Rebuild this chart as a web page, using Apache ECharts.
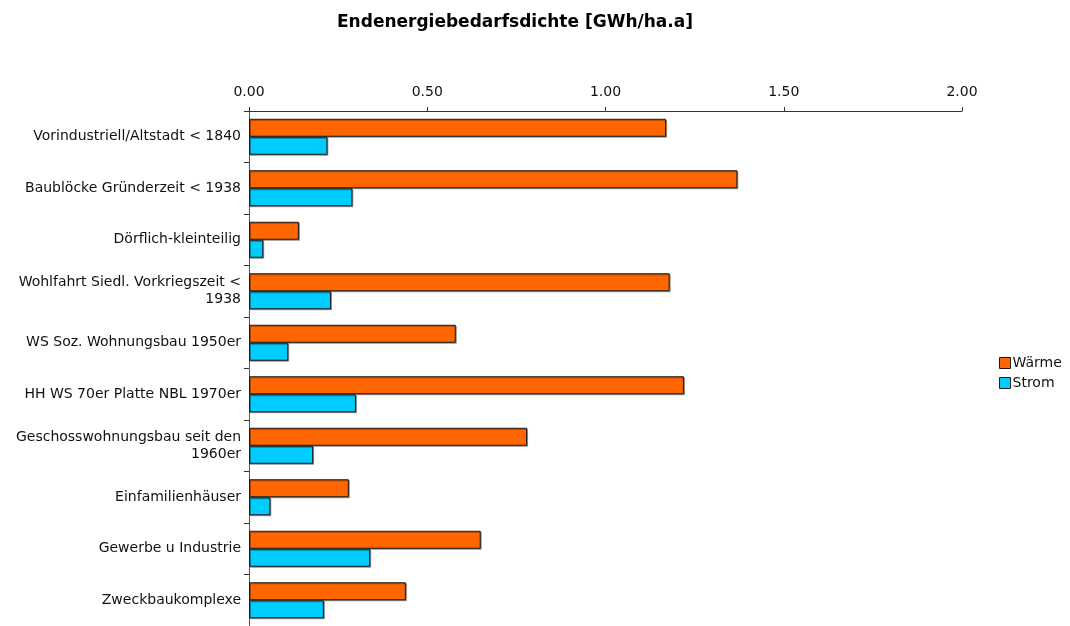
<!DOCTYPE html>
<html>
<head>
<meta charset="utf-8">
<script src="https://cdn.jsdelivr.net/npm/echarts@6/dist/echarts.min.js"></script>
<style>
  html, body { margin: 0; padding: 0; background: #fff; }
  #chart { width: 1070px; height: 626px; }
</style>
</head>
<body>
<div id="chart"></div>
<script>
// Energy demand density per settlement type
const categories = [
  'Vorindustriell/Altstadt < 1840',
  'Baublöcke Gründerzeit < 1938',
  'Dörflich-kleinteilig',
  'Wohlfahrt Siedl. Vorkriegszeit <\n1938',
  'WS Soz. Wohnungsbau 1950er',
  'HH WS 70er Platte NBL 1970er',
  'Geschosswohnungsbau seit den\n1960er',
  'Einfamilienhäuser',
  'Gewerbe u Industrie',
  'Zweckbaukomplexe'
];
const waerme = [1.17, 1.37, 0.14, 1.18, 0.58, 1.22, 0.78, 0.28, 0.65, 0.44];
const strom  = [0.22, 0.29, 0.04, 0.23, 0.11, 0.30, 0.18, 0.06, 0.34, 0.21];
const seriesNames = ['Wärme', 'Strom'];

const FONT = "'DejaVu Sans', sans-serif";
const chart = echarts.init(document.getElementById('chart'));

const barStyle = (color) => ({
  color: color,
  borderColor: '#1a1a1a',
  borderWidth: 1,
  shadowColor: 'rgba(0,0,0,0.35)',
  shadowOffsetX: 1,
  shadowOffsetY: 1,
  shadowBlur: 0
});

chart.setOption({
  animation: false,
  backgroundColor: '#ffffff',
  title: {
    text: 'Endenergiebedarfsdichte [GWh/ha.a]',
    left: 510,
    textAlign: 'center',
    top: 9,
    textStyle: { fontFamily: FONT, fontSize: 17, fontWeight: 'bold', color: '#000' }
  },
  legend: {
    orient: 'vertical',
    left: 994,
    top: 351,
    itemWidth: 11,
    itemHeight: 11,
    itemGap: 6,
    icon: 'rect',
    textStyle: { fontFamily: FONT, fontSize: 14, color: '#111', padding: [0, 0, 0, -3] },
    itemStyle: { borderColor: '#1a1a1a', borderWidth: 1 },
    data: seriesNames
  },
  grid: { left: 249, right: 108, top: 111, height: 520, containLabel: false },
  xAxis: {
    type: 'value',
    position: 'top',
    min: 0,
    max: 2,
    interval: 0.5,
    axisLine: { show: true, lineStyle: { color: '#333', width: 1 } },
    axisTick: { show: true, length: 4, lineStyle: { color: '#333' } },
    splitLine: { show: false },
    axisLabel: {
      margin: 12,
      fontFamily: FONT,
      fontSize: 14,
      color: '#111',
      formatter: (v) => v.toFixed(2)
    }
  },
  yAxis: {
    type: 'category',
    inverse: true,
    data: categories,
    axisLine: { show: true, lineStyle: { color: '#555', width: 1 } },
    axisTick: { show: true, length: 5, alignWithLabel: false, lineStyle: { color: '#333' } },
    axisLabel: {
      margin: 8,
      fontFamily: FONT,
      fontSize: 14,
      color: '#111',
      lineHeight: 17,
      align: 'right'
    }
  },
  series: [
    {
      name: seriesNames[0],
      type: 'bar',
      data: waerme,
      barWidth: 18,
      barGap: '0%',
      itemStyle: barStyle('#ff6600')
    },
    {
      name: seriesNames[1],
      type: 'bar',
      data: strom,
      barWidth: 18,
      barGap: '0%',
      itemStyle: barStyle('#00ccff')
    }
  ]
});
</script>
</body>
</html>
